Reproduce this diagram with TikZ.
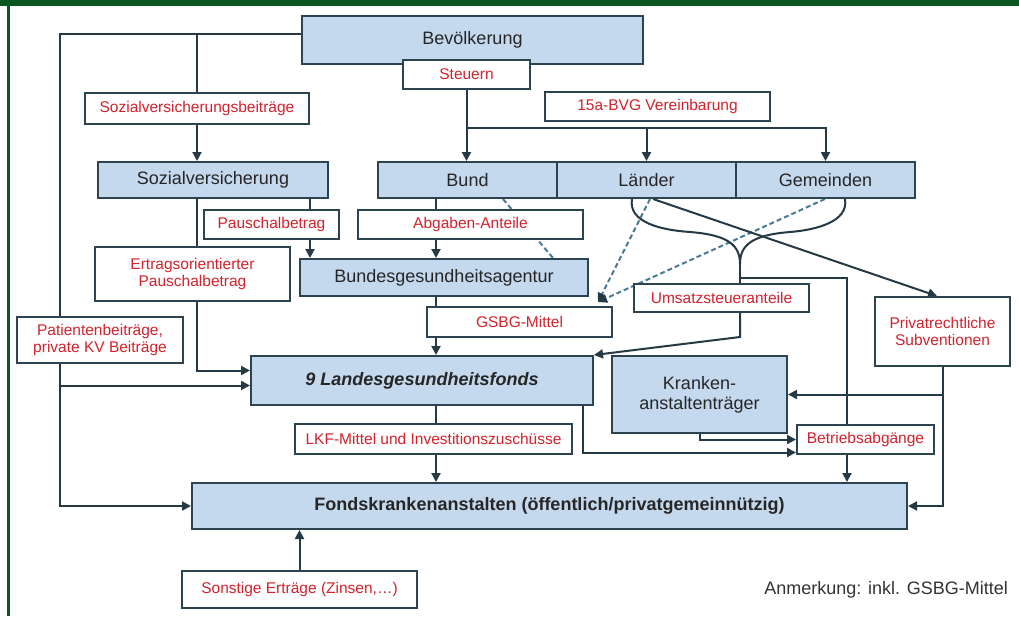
\documentclass[tikz,border=0pt]{standalone}
\usepackage{fontspec}
\setmainfont{Liberation Sans}
\usetikzlibrary{arrows.meta,backgrounds}

\definecolor{boxblue}{HTML}{C4D8EE}
\definecolor{boxline}{HTML}{2C4450}
\definecolor{flowred}{HTML}{D2232D}
\definecolor{flowline}{HTML}{263A46}
\definecolor{dashblue}{HTML}{4A7A94}
\definecolor{framegreen}{HTML}{0A5520}

\tikzset{
    unit/.style={draw=boxline, line width=2pt, fill=boxblue, inner sep=0pt, text=black!85, font=\fontsize{18}{20}\selectfont, align=center},
    flow/.style={draw=boxline, line width=2pt, fill=white, inner sep=0pt, text=flowred, font=\fontsize{15.5}{16.5}\selectfont, align=center},
    link/.style={draw=flowline, line width=2pt},
    linkarr/.style={link, -{Triangle[length=9pt,width=9pt]}},
    share/.style={draw=dashblue, line width=2pt, dash pattern=on 5pt off 3pt},
}

\begin{document}
\begin{tikzpicture}[x=1pt,y=-1pt]
    \useasboundingbox (0,0) rectangle (1019,616);
    \node[unit, minimum width=341pt, minimum height=48pt] (bev) at (472.5,40) {Bevölkerung};
    \node[flow, minimum width=127pt, minimum height=29pt] (steuern) at (466.5,74.5) {Steuern};
    \node[flow, minimum width=224pt, minimum height=31pt] (svb) at (197,108.5) {Sozialversicherungsbeiträge};
    \node[flow, minimum width=225pt, minimum height=29pt] (bvg) at (657.5,106.5) {15a-BVG Vereinbarung};
    \node[unit, minimum width=230pt, minimum height=36pt] (sv) at (213,180) {Sozialversicherung};
    \node[unit, minimum width=179pt, minimum height=36pt] (bund) at (467.5,180) {Bund};
    \node[unit, minimum width=179pt, minimum height=36pt] (laender) at (646.5,180) {Länder};
    \node[unit, minimum width=179pt, minimum height=36pt] (gemeinden) at (825.5,180) {Gemeinden};
    \node[flow, minimum width=135pt, minimum height=29pt] (pausch) at (271.5,224.5) {Pauschalbetrag};
    \node[flow, minimum width=225pt, minimum height=29pt] (abgaben) at (470.5,224.5) {Abgaben-Anteile};
    \node[flow, minimum width=195pt, minimum height=54pt] (ertrag) at (192.5,274) {Ertragsorientierter\\Pauschalbetrag};
    \node[unit, minimum width=288pt, minimum height=37pt] (bga) at (444,277.5) {Bundesgesundheitsagentur};
    \node[flow, minimum width=185pt, minimum height=30pt] (gsbg) at (519.5,322) {GSBG-Mittel};
    \node[flow, minimum width=175pt, minimum height=28pt] (umsatz) at (721.5,298) {Umsatzsteueranteile};
    \node[flow, minimum width=135pt, minimum height=69pt] (privat) at (942.5,331.5) {Privatrechtliche\\Subventionen};
    \node[flow, minimum width=166pt, minimum height=46pt] (patient) at (100,340) {Patientenbeiträge,\\private KV Beiträge};
    \node[unit, minimum width=342pt, minimum height=49pt] (lgf) at (422,380.5) {\bfseries\itshape 9 Landesgesundheitsfonds};
    \node[unit, minimum width=175pt, minimum height=77pt] (kat) at (699.5,394.5) {Kranken-\\anstaltenträger};
    \node[flow, minimum width=277pt, minimum height=30pt] (lkf) at (433.5,439) {LKF-Mittel und Investitionszuschüsse};
    \node[flow, minimum width=137pt, minimum height=29pt] (betrieb) at (865.5,439.5) {Betriebsabgänge};
    \node[unit, minimum width=715pt, minimum height=46pt] (fka) at (549.5,506) {\bfseries Fondskrankenanstalten (öffentlich/privatgemeinnützig)};
    \node[flow, minimum width=235pt, minimum height=37pt] (sonst) at (299.5,589.5) {Sonstige Erträge (Zinsen,…)};
    \node[anchor=east, inner sep=0pt, text=black!80, font=\fontsize{18}{20}\selectfont] (note) at (1008,590) {Anmerkung: inkl. GSBG-Mittel};

    \begin{scope}[on background layer]
    \fill[white] (0,0) rectangle (1019,616);
    \coordinate (top) at ([yshift=6pt]bev.west);
    \coordinate (lft) at (60,0 |- fka.west);
    \draw[linkarr] (top) -| (lft) -- (fka.west);
    \draw[link] (svb.north |- top) -- (svb.north);
    \draw[linkarr] (svb.south) -- (svb.south |- sv.north);
    \draw[linkarr] (steuern.south) -- (steuern.south |- bund.north);
    \coordinate (split) at (steuern.south |- 0,128);
    \draw[linkarr] (split) -| (gemeinden.north);
    \draw[linkarr] (laender.north |- split) -- (laender.north);
    \coordinate (lgfhi) at ([yshift=10pt]lgf.west);
    \coordinate (lgflo) at ([yshift=-5pt]lgf.west);
    \draw[linkarr] (svb.south |- sv.south) |- (lgfhi);
    \draw[linkarr] (lft |- lgflo) -- (lgflo);
    \draw[linkarr] (310,0 |- sv.south) -- (310,0 |- bga.north);
    \draw[linkarr] (436,0 |- bund.south) -- (436,0 |- bga.north);
    \draw[linkarr] (436,0 |- bga.south) -- (436,0 |- lgf.north);
    \draw[linkarr] (436,0 |- lgf.south) -- (436,0 |- fka.north);
    \draw[share] (503,0 |- bund.south) -- (553,0 |- bga.north);
    \coordinate (gsbgin) at ([xshift=-15pt,yshift=4pt]gsbg.north east);
    \draw[share, -{Triangle[length=9pt,width=9pt,color=flowline]}] (650,0 |- laender.south) -- (gsbgin);
    \draw[share, -{Triangle[length=9pt,width=9pt,color=flowline]}] (825,0 |- gemeinden.south) -- (gsbgin);
    \draw[linkarr] (653,0 |- laender.south) -- (937,0 |- privat.north);
    \coordinate (bracetip) at (740,264);
    \draw[link] (632,0 |- laender.south) .. controls (628,222) and (660,230) .. (690,232) .. controls (728,235) and (740,245) .. (bracetip);
    \draw[link] (845,0 |- gemeinden.south) .. controls (849,222) and (815,230) .. (790,232) .. controls (752,235) and (740,245) .. (bracetip);
    \draw[link] (bracetip) -- (bracetip |- umsatz.north);
    \coordinate (fork) at (740,278);
    \draw[linkarr] (fork) -| (847,0 |- fka.north);
    \coordinate (ubend) at (740,337);
    \draw[linkarr] (bracetip |- umsatz.south) -- (ubend) -- (lgf.north east);
    \draw[linkarr] (privat.south) |- (fka.east);
    \draw[linkarr] (privat.south |- kat.east) -- (kat.east);
    \draw[linkarr] (kat.south) |- (betrieb.west);
    \draw[linkarr] (583,0 |- lgf.south) |- ([yshift=-13pt]betrieb.west);
    \draw[linkarr] (sonst.north) -- (sonst.north |- fka.south);
    \end{scope}

    \fill[framegreen] (0,0) rectangle (1019,6);
    \fill[framegreen] (7,0) rectangle (9.5,616);
\end{tikzpicture}
\end{document}
